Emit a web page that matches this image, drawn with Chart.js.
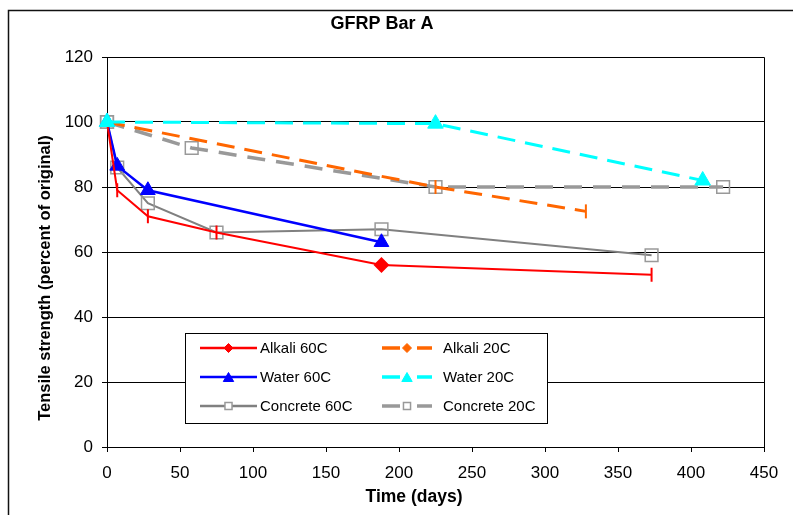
<!DOCTYPE html>
<html>
<head>
<meta charset="utf-8">
<title>GFRP Bar A</title>
<script src="https://cdn.jsdelivr.net/npm/chart.js@4.4.1/dist/chart.umd.min.js"></script>
<style>
  html, body { margin: 0; padding: 0; background: #fff; overflow: hidden; }
  #wrap { position: relative; width: 830px; height: 515px; }
</style>
</head>
<body>
<div id="wrap"><canvas id="chart" width="830" height="515"></canvas></div>
<script>
// values
const alkali60Days = [0, 7, 28, 75, 188, 373];
const alkali60 = [100, 79, 71, 66, 56, 53];
const alkali20Days = [0, 225, 328];
const alkali20 = [100, 80, 72.5];
const water60Days = [0, 7, 28, 188];
const water60 = [100, 86.5, 79, 63];
const water20Days = [0, 225, 408];
const water20 = [100, 99.5, 82];
const concrete60Days = [0, 7, 28, 75, 188, 373];
const concrete60 = [100, 86, 75, 66, 67, 59];
const concrete20Days = [0, 58, 225, 422];
const concrete20 = [100, 92, 80, 80];

const seriesNames = ['Alkali 60C', 'Alkali 20C', 'Water 60C', 'Water 20C', 'Concrete 60C', 'Concrete 20C'];
const xTicks = { min: 0, max: 450, step: 50 };
const yTicks = { min: 0, max: 120, step: 20 };

const FONT = '"Liberation Sans", Arial, sans-serif';

function pts(days, vals) {
    return days.map(function (d, i) { return { x: d, y: vals[i] }; });
}

// lower "order" is painted last (on top); cyan markers sit on top at day 0
const datasets = [
    {
        label: seriesNames[0], order: 1,
        data: pts(alkali60Days, alkali60),
        borderColor: '#FF0000', backgroundColor: '#FF0000', borderWidth: 2,
        pointStyle: ['line', 'line', 'line', 'line', 'rectRot', 'line'],
        pointRotation: [90, 90, 90, 90, 0, 90],
        pointRadius: [0, 7, 7, 7, 6.5, 7],
        pointBorderWidth: 2,
        pointBackgroundColor: '#FF0000', pointBorderColor: '#FF0000',
        legendStyle: 'rectRot', legendRadius: 4.5
    },
    {
        label: seriesNames[1], order: 3,
        data: pts(alkali20Days, alkali20),
        borderColor: '#FF6600', backgroundColor: '#FF6600', borderWidth: 3, borderDash: [18, 10],
        pointStyle: 'line', pointRotation: 90,
        pointRadius: [0, 7, 7],
        pointBorderWidth: 2,
        pointBackgroundColor: '#FF6600', pointBorderColor: '#FF6600',
        legendStyle: 'rectRot', legendRadius: 4.5
    },
    {
        label: seriesNames[2], order: 2,
        data: pts(water60Days, water60),
        borderColor: '#0000FF', backgroundColor: '#0000FF', borderWidth: 2.5,
        pointStyle: 'triangle', pointRadius: 8.5, pointBorderWidth: 1,
        pointBackgroundColor: '#0000FF', pointBorderColor: '#0000FF',
        legendStyle: 'triangle', legendRadius: 6
    },
    {
        label: seriesNames[3], order: 0,
        data: pts(water20Days, water20),
        borderColor: '#00FFFF', backgroundColor: '#00FFFF', borderWidth: 3, borderDash: [18, 10],
        pointStyle: 'triangle', pointRadius: 9, pointBorderWidth: 1,
        pointBackgroundColor: '#00FFFF', pointBorderColor: '#00FFFF',
        legendStyle: 'triangle', legendRadius: 6
    },
    {
        label: seriesNames[4], order: 4,
        data: pts(concrete60Days, concrete60),
        borderColor: '#808080', backgroundColor: '#808080', borderWidth: 2,
        pointStyle: 'rect', pointRadius: 9, pointBorderWidth: 1.5,
        pointBackgroundColor: 'rgba(0,0,0,0)', pointBorderColor: '#999999',
        legendStyle: 'rect', legendRadius: 5
    },
    {
        label: seriesNames[5], order: 5,
        data: pts(concrete20Days, concrete20),
        borderColor: '#999999', backgroundColor: '#999999', borderWidth: 3.5, borderDash: [18, 11],
        pointStyle: 'rect', pointRadius: 9, pointBorderWidth: 1.5,
        pointBackgroundColor: 'rgba(0,0,0,0)', pointBorderColor: '#999999',
        legendStyle: 'rect', legendRadius: 5
    }
];
datasets.forEach(function (ds) { ds.clip = false; });

// frame, plot border, axis titles and the boxed legend
const decorations = {
    id: 'decorations',
    beforeDraw: function (chart) {
        const ctx = chart.ctx;
        ctx.save();
        ctx.strokeStyle = '#111';
        ctx.lineWidth = 1.5;
        ctx.beginPath();
        ctx.moveTo(8.5, 515);
        ctx.lineTo(8.5, 10.5);
        ctx.lineTo(830, 10.5);
        ctx.stroke();
        ctx.restore();
    },
    beforeDatasetsDraw: function (chart) {
        const a = chart.chartArea;
        const ctx = chart.ctx;
        ctx.save();
        ctx.strokeStyle = '#000';
        ctx.lineWidth = 1;
        ctx.beginPath();
        ctx.moveTo(a.left, a.top + 0.5);
        ctx.lineTo(a.right + 0.5, a.top + 0.5);
        ctx.lineTo(a.right + 0.5, a.bottom);
        ctx.stroke();
        ctx.restore();
    },
    afterDatasetsDraw: function (chart) {
        const ctx = chart.ctx;
        ctx.save();
        // legend box
        const bx = 185.5, by = 333.5, bw = 362, bh = 90;
        ctx.fillStyle = '#fff';
        ctx.fillRect(bx, by, bw, bh);
        ctx.strokeStyle = '#000';
        ctx.lineWidth = 1;
        ctx.strokeRect(bx, by, bw, bh);

        const rows = [348, 377, 406];
        const cols = [{ x1: 200, x2: 257, tx: 260 }, { x1: 382, x2: 432, tx: 443 }];
        ctx.font = '15px ' + FONT;
        ctx.textBaseline = 'middle';
        ctx.textAlign = 'left';
        chart.data.datasets.forEach(function (ds, i) {
            const c = cols[i % 2];
            const y = rows[Math.floor(i / 2)];
            const cx = (c.x1 + c.x2) / 2;
            ctx.strokeStyle = ds.borderColor;
            ctx.lineWidth = ds.borderDash ? 3.5 : 2.5;
            ctx.beginPath();
            if (ds.borderDash) {
                ctx.moveTo(c.x1, y); ctx.lineTo(c.x1 + 18, y);
                ctx.moveTo(c.x2 - 15, y); ctx.lineTo(c.x2, y);
            } else {
                ctx.moveTo(c.x1, y); ctx.lineTo(c.x2, y);
            }
            ctx.stroke();
            const hollow = ds.legendStyle === 'rect';
            ctx.fillStyle = hollow ? '#fff' : ds.borderColor;
            ctx.strokeStyle = hollow ? '#999999' : ds.borderColor;
            ctx.lineWidth = hollow ? 1.5 : 1;
            Chart.helpers.drawPoint(ctx, {
                pointStyle: ds.legendStyle, radius: ds.legendRadius, rotation: 0, borderWidth: ctx.lineWidth
            }, cx, y + (ds.legendStyle === 'triangle' ? 1.5 : 0));
            ctx.fillStyle = '#000';
            ctx.fillText(ds.label, c.tx, y + 1);
        });

        // axis titles
        ctx.fillStyle = '#000';
        ctx.font = 'bold 17.5px ' + FONT;
        ctx.textAlign = 'center';
        ctx.textBaseline = 'middle';
        ctx.fillText('Time (days)', 414, 497);
        ctx.translate(50, 278);
        ctx.rotate(-Math.PI / 2);
        ctx.font = 'bold 16.5px ' + FONT;
        ctx.textBaseline = 'alphabetic';
        ctx.fillText('Tensile strength (percent of original)', 0, 0);
        ctx.restore();
    }
};

new Chart(document.getElementById('chart'), {
    type: 'line',
    data: { datasets: datasets },
    plugins: [decorations],
    options: {
        responsive: false,
        devicePixelRatio: 1,
        animation: false,
        layout: { padding: { left: 0, right: 66, top: 0, bottom: 0 } },
        elements: { line: { tension: 0, fill: false } },
        plugins: {
            legend: { display: false },
            tooltip: { enabled: false },
            title: {
                display: true,
                text: 'GFRP Bar A',
                color: '#000',
                font: { family: FONT, size: 18, weight: 'bold', lineHeight: 1.2 },
                padding: { top: 13, bottom: 22.4 }
            }
        },
        scales: {
            x: {
                type: 'linear',
                min: xTicks.min, max: xTicks.max,
                afterFit: function (s) { s.height = 68; },
                border: { display: true, color: '#000', width: 1 },
                grid: { drawOnChartArea: false, drawTicks: true, tickLength: 5, color: '#000' },
                ticks: { stepSize: xTicks.step, color: '#000', padding: 11, font: { family: FONT, size: 17 } }
            },
            y: {
                min: yTicks.min, max: yTicks.max,
                afterFit: function (s) { s.width = 107; },
                border: { display: true, color: '#000', width: 1 },
                grid: { drawTicks: true, tickLength: 5, color: '#000' },
                ticks: { stepSize: yTicks.step, color: '#000', padding: 9, font: { family: FONT, size: 17 } }
            }
        }
    }
});
</script>
</body>
</html>
